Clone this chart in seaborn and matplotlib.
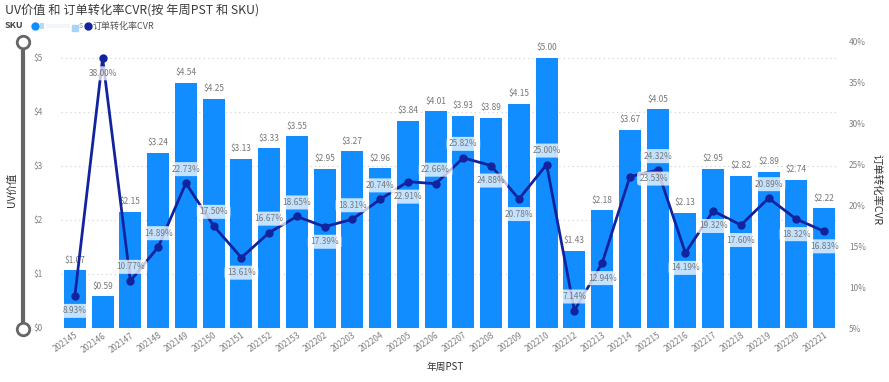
import numpy as np
import pandas as pd
import matplotlib
matplotlib.use("Agg")
import matplotlib.pyplot as plt
import seaborn as sns
from matplotlib.lines import Line2D
from matplotlib.patches import Rectangle

weeks = ["202145", "202146", "202147", "202148", "202149", "202150", "202151",
         "202152", "202153", "202202", "202203", "202204", "202205", "202206",
         "202207", "202208", "202209", "202210", "202212", "202213", "202214",
         "202215", "202216", "202217", "202218", "202219", "202220", "202221"]
uv_value = [1.07, 0.59, 2.15, 3.24, 4.54, 4.25, 3.13, 3.33, 3.55, 2.95, 3.27,
            2.96, 3.84, 4.01, 3.93, 3.89, 4.15, 5.00, 1.43, 2.18, 3.67, 4.05,
            2.13, 2.95, 2.82, 2.89, 2.74, 2.22]
cvr_pct = [8.93, 38.00, 10.77, 14.89, 22.73, 17.50, 13.61, 16.67, 18.65, 17.39,
           18.31, 20.74, 22.91, 22.66, 25.82, 24.88, 20.78, 25.00, 7.14, 12.94,
           23.53, 24.32, 14.19, 19.32, 17.60, 20.89, 18.32, 16.83]
label_side = ["b", "b", "a", "a", "a", "a", "b", "a", "a", "b", "a", "a", "b", "a",
              "a", "b", "b", "a", "a", "b", "b", "a", "b", "b", "b", "a", "b", "b"]

sns.set_theme(style="white")
plt.rcParams['font.family'] = ['Noto Sans CJK SC', 'DejaVu Sans']

W, H = 889, 382
fig = plt.figure(figsize=(W / 100, H / 100), dpi=100)
fig.patch.set_facecolor("white")
ax = fig.add_axes([61 / W, 54 / H, 777 / W, 286 / H])

df = pd.DataFrame({"week": weeks, "uv": uv_value, "cvr": cvr_pct})

sns.barplot(data=df, x="week", y="uv", color="#118DFF", saturation=1,
            width=0.8, ax=ax, zorder=2)
for p in ax.patches:
    p.set_edgecolor("none")
ax.set_ylim(0, 286 / 54)
ax.set_yticks([0, 1, 2, 3, 4, 5])
ax.set_yticklabels([f"${t}" for t in range(6)])
ax.yaxis.grid(True, linestyle=(0, (1, 3)), color="#cfcfcf", lw=0.8, zorder=0)
ax.set_axisbelow(True)
for s in ax.spines.values():
    s.set_visible(False)
ax.tick_params(axis="y", length=0, labelsize=6, labelcolor="#808080", pad=13)
ax.tick_params(axis="x", length=0, labelsize=6, labelcolor="#808080", pad=2)
ax.set_xticks(range(len(weeks)))
ax.set_xticklabels(weeks, rotation=35, ha="right", rotation_mode="anchor")
ax.set_xlabel("")
ax.set_ylabel("")
ax.bar_label(ax.containers[0], labels=[f"${v:.2f}" for v in uv_value],
             padding=4, fontsize=6, color="#777777")

ax2 = ax.twinx()
sns.pointplot(data=df, x="week", y="cvr", color="#12239E", ax=ax2,
              markersize=4.5, linewidth=2, zorder=3)
ax2.set_ylim(5, 40)
ax2.set_yticks(range(5, 41, 5))
ax2.set_yticklabels([f"{t}%" for t in range(5, 41, 5)])
ax2.set_ylabel("")
ax2.set_xlabel("")
for s in ax2.spines.values():
    s.set_visible(False)
ax2.tick_params(axis="y", length=0, labelsize=6, labelcolor="#808080", pad=8)
ax2.set_xlim(-0.5, len(weeks) - 0.5)
ax2.grid(False)

for i, (v, side) in enumerate(zip(cvr_pct, label_side)):
    dy = 14 if side == "a" else -15
    dx = 0
    if i == 20:
        dx = 24
        dy = -2
    ax2.annotate(f"{v:.2f}%", (i, v), xytext=(dx, dy), textcoords="offset pixels",
                 ha="center", va="center", fontsize=6, color="#777777", zorder=5,
                 bbox=dict(boxstyle="round,pad=0.3,rounding_size=0.4",
                           fc="white", ec="none", alpha=0.75))

# titles and labels
fig.text(5 / W, 1 - 10 / H, "UV价值 和 订单转化率CVR(按 年周PST 和 SKU)",
         fontsize=8.8, color="#3a3a3a", va="center", ha="left")
fig.text(5 / W, 1 - 26 / H, "SKU", fontsize=6.5, fontweight="bold",
         color="#444444", va="center", ha="left")
fig.add_artist(Line2D([35 / W], [1 - 26 / H], transform=fig.transFigure,
                      marker="o", markersize=5, color="#118DFF", linestyle="none"))
fig.add_artist(Rectangle((40 / W, 1 - 29 / H), 4 / W, 6 / H,
                         transform=fig.transFigure, color="#b5d9f8", lw=0))
fig.add_artist(Rectangle((46 / W, 1 - 28 / H), 24 / W, 4 / H,
                         transform=fig.transFigure, color="#f3f6f9", lw=0))
fig.add_artist(Line2D([75 / W], [1 - 28 / H], transform=fig.transFigure,
                      marker="s", markersize=5, color="#a9d3f5", linestyle="none"))
fig.text(79 / W, 1 - 26 / H, "s", fontsize=6.5, color="#9a9a9a", va="center", ha="left")
fig.add_artist(Line2D([88 / W], [1 - 26 / H], transform=fig.transFigure,
                      marker="o", markersize=5, color="#12239E", linestyle="none"))
fig.text(93 / W, 1 - 26 / H, "订单转化率CVR", fontsize=6.5, color="#555555",
         va="center", ha="left")

fig.text(12 / W, 1 - 190 / H, "UV价值", rotation=90, fontsize=7.5,
         color="#333333", va="center", ha="center")
fig.text(877 / W, 1 - 190 / H, "订单转化率CVR", rotation=270, fontsize=7.5,
         color="#333333", va="center", ha="center")
fig.text(445 / W, 1 - 367 / H, "年周PST", fontsize=7, color="#333333",
         va="center", ha="center")

# slider on the left
fig.add_artist(Line2D([23 / W, 23 / W], [1 - 42 / H, 1 - 329 / H],
                      transform=fig.transFigure, color="#666666", lw=3,
                      solid_capstyle="butt"))
fig.add_artist(Line2D([23 / W, 23 / W], [1 - 42 / H, 1 - 329 / H],
                      transform=fig.transFigure, linestyle="none", marker="o",
                      markersize=9, markerfacecolor="white",
                      markeredgecolor="#666666", markeredgewidth=2))

fig.savefig("out.png", dpi=100, facecolor="white")
